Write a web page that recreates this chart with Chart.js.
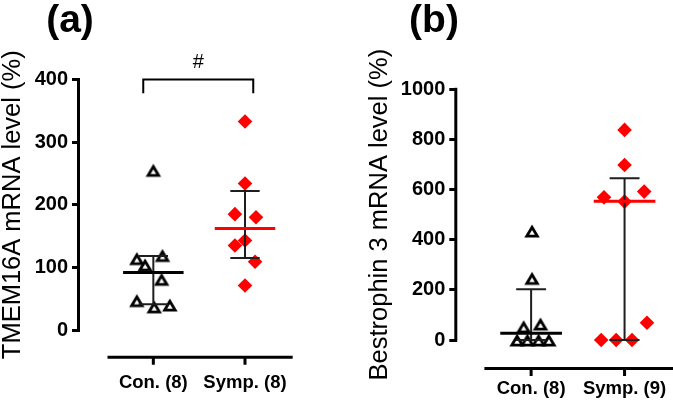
<!DOCTYPE html>
<html>
<head>
<meta charset="utf-8">
<script src="https://cdn.jsdelivr.net/npm/chart.js@4/dist/chart.umd.min.js"></script>
<style>
html,body{margin:0;padding:0;background:#fff;}
#wrap{position:relative;width:673px;height:402px;overflow:hidden;background:#fff;}
canvas{position:absolute;top:0;}
#ca{left:0;}
#cb{left:336px;}
</style>
</head>
<body>
<div id="wrap">
<canvas id="ca" width="336" height="402"></canvas>
<canvas id="cb" width="337" height="402"></canvas>
</div>
<script>
// ---------- data ----------
const categoriesA = ['Con. (8)', 'Symp. (8)'];
const categoriesB = ['Con. (8)', 'Symp. (9)'];

const conA        = [255, 114, 119, 104, 81, 47, 37, 40];
const conAJitter  = [0, -0.18, 0.10, -0.09, 0.09, -0.18, 0.01, 0.18];
const sympA       = [333, 234, 185, 180, 143, 135, 109, 71];
const sympAJitter = [0, 0, -0.11, 0.12, 0, -0.11, 0.11, 0];
const medianA = [92, 162];
const q1A     = [41, 115];
const q3A     = [118, 222];
const yTicksA = [0, 100, 200, 300, 400];
const bracketAX = [0.89, 2.09];
const bracketAY = [400, 378];
const bracketALabel = '#';

const conB        = [435, 246, 53, 64, 0, 0, 0, 0];
const conBJitter  = [0.01, 0.01, -0.08, 0.10, -0.15, -0.04, 0.08, 0.19];
const sympB       = [838, 698, 569, 592, 552, 69, 0, 0, 0];
const sympBJitter = [0, 0, -0.22, 0.21, 0, 0.24, -0.25, -0.09, 0.08];
const medianB = [27, 553];
const q1B     = [0, 0];
const q3B     = [202, 645];
const yTicksB = [0, 200, 400, 600, 800, 1000];

const yTitleA = 'TMEM16A mRNA level (%)';
const yTitleB = 'Bestrophin 3 mRNA level (%)';
const panelA = '(a)';
const panelB = '(b)';

// ---------- styling ----------
const FONT = "'Liberation Sans', Arial, Helvetica, sans-serif";
const RED = '#ff0000';
Chart.defaults.font.family = FONT;
Chart.defaults.color = '#000';

function makeTriangle() {
  const c = document.createElement('canvas');
  c.width = 22; c.height = 20;
  const g = c.getContext('2d');
  g.strokeStyle = '#000';
  g.lineWidth = 2.8;
  g.lineJoin = 'miter';
  g.beginPath();
  g.moveTo(11, 6.2);
  g.lineTo(16.3, 15.2);
  g.lineTo(5.7, 15.2);
  g.closePath();
  g.stroke();
  return c;
}
const triImg = makeTriangle();

function makeDecor(o) {
  return {
    id: 'decor',
    afterDatasetsDraw(chart) {
      const {ctx, scales: {x, y}} = chart;
      ctx.save();
      for (let g = 0; g < 2; g++) {
        const cx = x.getPixelForValue(g + 1);
        const yt = y.getPixelForValue(o.q3[g]);
        const yb = y.getPixelForValue(o.q1[g]);
        ctx.strokeStyle = '#1e1e1e';
        ctx.lineWidth = 2;
        ctx.beginPath();
        ctx.moveTo(cx, yt); ctx.lineTo(cx, yb);
        ctx.moveTo(x.getPixelForValue(g + 1 - 0.16), yt); ctx.lineTo(x.getPixelForValue(g + 1 + 0.16), yt);
        ctx.moveTo(x.getPixelForValue(g + 1 - 0.16), yb); ctx.lineTo(x.getPixelForValue(g + 1 + 0.16), yb);
        ctx.stroke();
        const ym = y.getPixelForValue(o.median[g]);
        ctx.strokeStyle = g === 0 ? '#000' : RED;
        ctx.lineWidth = 3;
        ctx.beginPath();
        ctx.moveTo(x.getPixelForValue(g + 1 - 0.33), ym);
        ctx.lineTo(x.getPixelForValue(g + 1 + 0.33), ym);
        ctx.stroke();
      }
      ctx.restore();
    },
    afterDraw(chart) {
      const {ctx, chartArea: ca, scales: {x, y}} = chart;
      ctx.save();
      ctx.strokeStyle = '#000';
      ctx.lineWidth = 3;
      ctx.lineCap = 'butt';
      // y axis line
      const yTop = y.getPixelForValue(o.yTicks[o.yTicks.length - 1]);
      const yBot = y.getPixelForValue(o.yTicks[0]);
      ctx.beginPath();
      ctx.moveTo(ca.left - 1.5, yTop - 1.5);
      ctx.lineTo(ca.left - 1.5, yBot + 1.5);
      ctx.stroke();
      // x axis line (offset below the y axis)
      const ax = ca.bottom + o.xAxisOffset;
      ctx.beginPath();
      ctx.moveTo(x.getPixelForValue(0.5), ax);
      ctx.lineTo(x.getPixelForValue(2.52), ax);
      for (let g = 1; g <= 2; g++) {
        const px = x.getPixelForValue(g);
        ctx.moveTo(px, ax);
        ctx.lineTo(px, ax + 7.5);
      }
      ctx.stroke();
      // significance bracket
      if (o.bracketX) {
        ctx.lineWidth = 2;
        const bx1 = x.getPixelForValue(o.bracketX[0]);
        const bx2 = x.getPixelForValue(o.bracketX[1]);
        const by = y.getPixelForValue(o.bracketY[0]);
        const be = y.getPixelForValue(o.bracketY[1]);
        ctx.beginPath();
        ctx.moveTo(bx1, be); ctx.lineTo(bx1, by); ctx.lineTo(bx2, by); ctx.lineTo(bx2, be);
        ctx.stroke();
        ctx.fillStyle = '#000';
        ctx.font = '20px ' + FONT;
        ctx.textAlign = 'center';
        ctx.textBaseline = 'middle';
        ctx.fillText(o.bracketLabel, (bx1 + bx2) / 2, by - 17);
      }
      // panel letter
      ctx.fillStyle = '#000';
      ctx.font = 'bold 39px ' + FONT;
      ctx.textAlign = 'center';
      ctx.textBaseline = 'alphabetic';
      ctx.fillText(o.panel, o.panelX, 32);
      ctx.restore();
    }
  };
}

function makeChart(id, o) {
  return new Chart(document.getElementById(id), {
    type: 'scatter',
    data: {
      datasets: [
        {
          data: o.con.map((v, i) => ({x: 1 + o.conJ[i], y: v})),
          pointStyle: triImg,
          pointRadius: 7,
          borderColor: '#000',
          backgroundColor: 'rgba(0,0,0,0)',
          clip: false
        },
        {
          data: o.symp.map((v, i) => ({x: 2 + o.sympJ[i], y: v})),
          pointStyle: 'rectRot',
          pointRadius: 7.3,
          backgroundColor: RED,
          borderColor: RED,
          borderWidth: 0,
          clip: false
        }
      ]
    },
    options: {
      responsive: false,
      animation: false,
      devicePixelRatio: 1,
      layout: {padding: {top: o.top, right: o.right, left: 0, bottom: 0}},
      plugins: {legend: {display: false}, tooltip: {enabled: false}},
      scales: {
        x: {
          type: 'linear',
          min: o.xmin, max: o.xmax,
          afterBuildTicks: s => { s.ticks = [{value: 1}, {value: 2}]; },
          afterFit: s => { s.height = o.xh; s.paddingLeft = 0; s.paddingRight = 0; },
          grid: {display: false, drawTicks: false},
          border: {display: false},
          ticks: {
            autoSkip: false, maxRotation: 0, minRotation: 0,
            padding: o.xpad, color: '#000',
            font: {family: FONT, size: 18.5, weight: 'bold'},
            callback: v => o.cats[Math.round(v) - 1]
          }
        },
        y: {
          min: 0, max: o.yTicks[o.yTicks.length - 1],
          afterBuildTicks: s => { s.ticks = o.yTicks.map(v => ({value: v})); },
          afterFit: s => { s.width = o.yw; s.paddingTop = 0; s.paddingBottom = 0; },
          grid: {display: true, drawOnChartArea: false, drawTicks: true, tickLength: 8, lineWidth: 3, color: '#000'},
          border: {display: false},
          ticks: {padding: 4, color: '#000', font: {family: FONT, size: 20, weight: 'bold'}, callback: v => String(v)},
          title: {
            display: true, text: o.ytitle, color: '#000',
            font: {family: FONT, size: 25.5, weight: 'normal', lineHeight: 1},
            padding: {top: o.tpad, bottom: 0}
          }
        }
      }
    },
    plugins: [makeDecor(o)]
  });
}

makeChart('ca', {
  cats: categoriesA, con: conA, conJ: conAJitter, symp: sympA, sympJ: sympAJitter,
  median: medianA, q1: q1A, q3: q3A, yTicks: yTicksA, ytitle: yTitleA,
  bracketX: bracketAX, bracketY: bracketAY, bracketLabel: bracketALabel,
  panel: panelA, panelX: 70,
  top: 79.5, right: 36, yw: 80, xh: 72, xmin: 0.2, xmax: 2.6, xpad: 41.7, tpad: 0, xAxisOffset: 27.3
});

makeChart('cb', {
  cats: categoriesB, con: conB, conJ: conBJitter, symp: sympB, sympJ: sympBJitter,
  median: medianB, q1: q1B, q3: q3B, yTicks: yTicksB, ytitle: yTitleB,
  bracketX: null,
  panel: panelB, panelX: 98,
  top: 89.3, right: 12, yw: 121.3, xh: 62, xmin: 0.21, xmax: 2.39, xpad: 37.5, tpad: 31.5, xAxisOffset: 28.5
});
</script>
</body>
</html>
